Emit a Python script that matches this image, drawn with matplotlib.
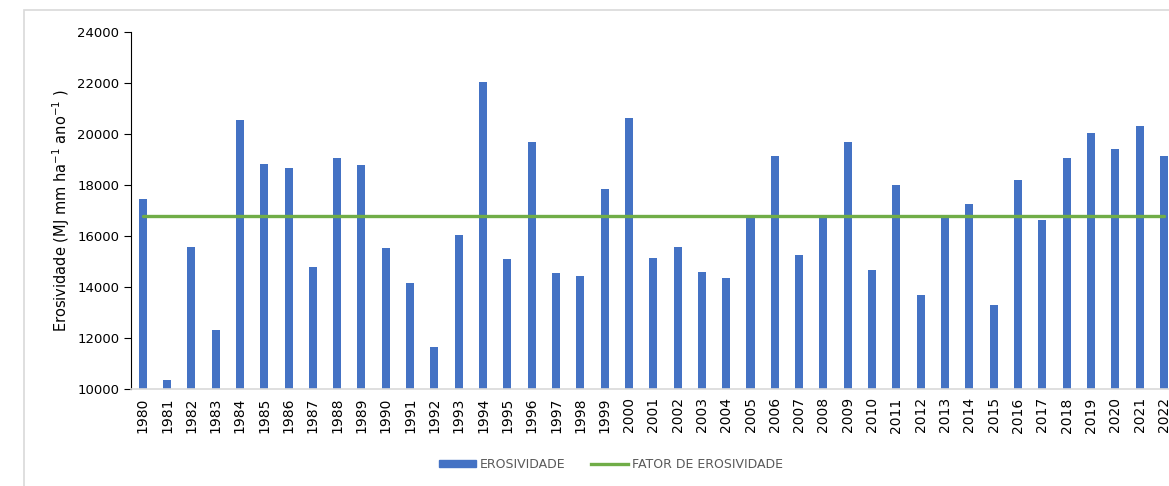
import numpy as np
import matplotlib

matplotlib.use("Agg")
import matplotlib.pyplot as plt
from matplotlib.patches import Rectangle
from matplotlib.lines import Line2D

# ---------------------------------------------------------------------------
# Data
# ---------------------------------------------------------------------------
years = list(range(1980, 2023))
erosividade = [
    17450, 10340, 15550, 12300, 20550, 18830, 18680, 14790, 19050, 18800,
    15510, 14160, 11650, 16030, 22050, 15080, 19700, 14530, 14430, 17840,
    20620, 15120, 15550, 14570, 14360, 16760, 19140, 15260, 16760, 19680,
    14650, 18000, 13690, 16690, 17270, 13300, 18190, 16610, 19050, 20030,
    19410, 20320, 19140,
]
fator = 16800  # mean erosivity factor

BLUE = "#4472c4"
GREEN = "#70ad47"
GRAY = "#595959"

fig = plt.figure(figsize=(11.69, 4.86), dpi=100)

# Light grey chart frame (cropped on the right and bottom in the original)
fig.patches.append(
    Rectangle((24 / 1169, -0.1), 1.2, (486 - 10) / 486 + 0.1,
              transform=fig.transFigure, fill=False,
              edgecolor="#d9d9d9", linewidth=1.2)
)

ax = fig.add_axes([130.5 / 1169, (486 - 389) / 486, (1176 - 130.5) / 1169,
                   (389 - 32) / 486])

x = np.arange(len(years))
ax.bar(x, erosividade, width=0.33, color=BLUE, zorder=2)
ax.plot([x[0], x[-1]], [fator, fator], color=GREEN, linewidth=2.4,
        solid_capstyle="round", zorder=3)

ax.set_xlim(-0.5, len(years) - 0.5)
ax.set_ylim(10000, 24000)
ax.set_yticks(np.arange(10000, 24001, 2000))
ax.set_xticks(x)
ax.set_xticklabels([str(y) for y in years], rotation=90, fontsize=10)
ax.tick_params(axis="x", length=0, pad=6)
ax.tick_params(axis="y", length=5, direction="out", labelsize=9.5, pad=3)

for spine in ("top", "right"):
    ax.spines[spine].set_visible(False)
ax.spines["bottom"].set_color("#d9d9d9")
ax.spines["bottom"].set_linewidth(1.2)
ax.spines["left"].set_color("black")

ax.set_ylabel(r"Erosividade (MJ mm ha$^{\mathregular{-1}}$ ano$^{\mathregular{-1}}$ )",
              fontsize=10.5, labelpad=4)

handles = [
    Rectangle((0, 0), 1, 1, color=BLUE),
    Line2D([0], [0], color=GREEN, linewidth=2.4),
]
leg = fig.legend(handles, ["EROSIVIDADE", "FATOR DE EROSIVIDADE"],
                 loc="center", bbox_to_anchor=(611 / 1169, 1 - 464 / 486),
                 ncol=2, frameon=False, fontsize=9, handlelength=3.0,
                 handleheight=0.5, columnspacing=2.0, handletextpad=0.3)
for t in leg.get_texts():
    t.set_color(GRAY)

fig.savefig("out.png", dpi=100)
